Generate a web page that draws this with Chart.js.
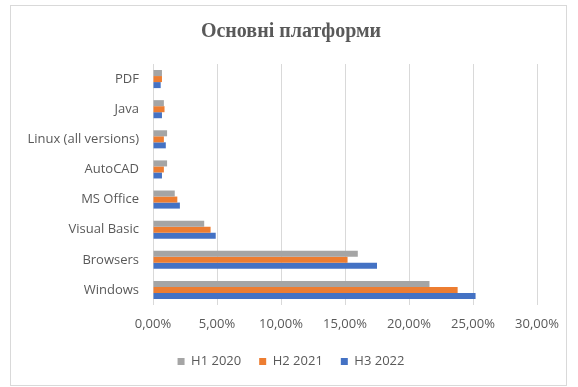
<!DOCTYPE html>
<html>
<head>
<meta charset="utf-8">
<script src="https://cdn.jsdelivr.net/npm/chart.js@4/dist/chart.umd.min.js"></script>
<style>
  html, body { margin: 0; padding: 0; background: #fff; }
  #frame { position: absolute; left: 10px; top: 5px; width: 555px; height: 379px; border: 1px solid #d9d9d9; }
  #wrap { position: absolute; left: 0; top: 0; width: 578px; height: 387px; }
</style>
</head>
<body>
<div id="frame"></div>
<div id="wrap"><canvas id="chart"></canvas></div>
<script>
  // values in percent, listed top to bottom as in the picture
  const categories = ['PDF', 'Java', 'Linux (all versions)', 'AutoCAD', 'MS Office', 'Visual Basic', 'Browsers', 'Windows'];
  const h1_2020 = [0.7, 0.85, 1.1, 1.1, 1.7, 4.0, 16.0, 21.6];
  const h2_2021 = [0.7, 0.9, 0.85, 0.85, 1.9, 4.5, 15.2, 23.8];
  const h3_2022 = [0.6, 0.7, 1.0, 0.7, 2.1, 4.9, 17.5, 25.2];
  const seriesNames = ['H1 2020', 'H2 2021', 'H3 2022'];
  const xTicks = [0, 5, 10, 15, 20, 25, 30];

  const textColor = '#595959';
  const font = { family: 'Open Sans', size: 13 };

  new Chart(
    document.getElementById('chart'),
    {
      type: 'bar',
      data: {
        labels: categories,
        datasets: [
          { label: seriesNames[0], data: h1_2020, backgroundColor: '#a5a5a5' },
          { label: seriesNames[1], data: h2_2021, backgroundColor: '#ed7d31' },
          { label: seriesNames[2], data: h3_2022, backgroundColor: '#4472c4' }
        ]
      },
      options: {
        indexAxis: 'y',
        responsive: true,
        maintainAspectRatio: false,
        animation: false,
        barPercentage: 1,
        categoryPercentage: 0.6,
        layout: {
          padding: { left: 14, right: 10, top: 0, bottom: 9 }
        },
        plugins: {
          title: {
            display: true,
            text: 'Основні платформи',
            color: textColor,
            font: { family: 'Liberation Serif', size: 20, weight: 'bold' },
            padding: { top: 20, bottom: 20 }
          },
          legend: {
            position: 'bottom',
            labels: {
              color: textColor,
              font: font,
              boxWidth: 7,
              boxHeight: 7,
              padding: 18
            }
          },
          tooltip: { enabled: false }
        },
        scales: {
          x: {
            min: 0,
            max: 30,
            afterBuildTicks: (scale) => { scale.ticks = xTicks.map(v => ({ value: v })); },
            afterFit: (scale) => { scale.height = 32; },
            grid: { color: '#d9d9d9', drawTicks: false },
            border: { display: false },
            ticks: {
              color: textColor,
              font: font,
              padding: 11,
              callback: (value) => value.toFixed(2).replace('.', ',') + '%'
            }
          },
          y: {
            clip: false,
            afterFit: (scale) => { scale.width = 139; },
            grid: { display: false, drawTicks: false },
            border: { display: false },
            ticks: {
              color: textColor,
              font: font,
              padding: 14
            }
          },
          // empty spacer on the right so the plot ends where the reference does
          yRight: {
            type: 'category',
            position: 'right',
            afterFit: (scale) => { scale.width = 31; },
            grid: { display: false, drawTicks: false },
            border: { display: false },
            ticks: { display: false }
          }
        }
      }
    }
  );
</script>
</body>
</html>
